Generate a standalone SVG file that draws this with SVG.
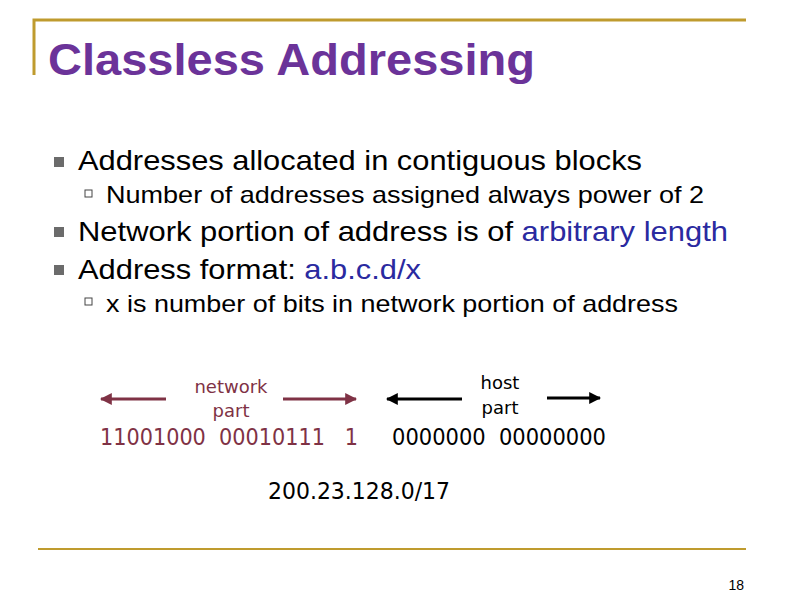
<svg xmlns="http://www.w3.org/2000/svg" width="792" height="612" viewBox="0 0 792 612">
<defs>
<marker id="ar2" viewBox="0 0 10 10" refX="9" refY="5" markerWidth="4" markerHeight="4" orient="auto"><path d="M0,0L10,5L0,10z" fill="#000"/></marker>
<marker id="ar3" viewBox="0 0 10 10" refX="9" refY="5" markerWidth="4" markerHeight="4" orient="auto"><path d="M0,0L10,5L0,10z" fill="#7f3245"/></marker>
</defs>
<style>
.t{font-family:"Liberation Sans",Arial,sans-serif;fill:#000}
.b{font-size:28px}
.s{font-size:24px}
.blue{fill:#2a2aa0}
.net{font-family:"DejaVu Sans",sans-serif;fill:#7f3245}
.hst{font-family:"DejaVu Sans",sans-serif;fill:#000}
</style>
<rect width="792" height="612" fill="#fff"/>
<g id="frame" fill="none" stroke="#bf9b2e" stroke-width="3">
<path d="M34,75V20H746"/>
<path d="M38,549H746" stroke-width="2"/>
</g>
<text class="t" x="48" y="75" font-size="44" font-weight="bold" style="fill:#6b3399" textLength="487" lengthAdjust="spacingAndGlyphs">Classless Addressing</text>
<g id="bullets">
<rect x="54" y="157" width="10" height="10" fill="#6b6b6b"/>
<rect x="54" y="227" width="10" height="10" fill="#6b6b6b"/>
<rect x="54" y="265" width="10" height="10" fill="#6b6b6b"/>
<rect x="85" y="190" width="7" height="7" fill="none" stroke="#444" stroke-width="1"/>
<rect x="85" y="298" width="7" height="7" fill="none" stroke="#444" stroke-width="1"/>
</g>
<text class="t b" x="78" y="170" textLength="564" lengthAdjust="spacingAndGlyphs">Addresses allocated in contiguous blocks</text>
<text class="t s" x="106" y="203" textLength="598" lengthAdjust="spacingAndGlyphs">Number of addresses assigned always power of 2</text>
<text class="t b" x="78" y="241" textLength="650" lengthAdjust="spacingAndGlyphs">Network portion of address is of <tspan class="blue">arbitrary length</tspan></text>
<text class="t b" x="78" y="279" textLength="343" lengthAdjust="spacingAndGlyphs">Address format: <tspan class="blue">a.b.c.d/x</tspan></text>
<text class="t s" x="106" y="312" textLength="572" lengthAdjust="spacingAndGlyphs">x is number of bits in network portion of address</text>
<g id="connectors" stroke-width="3">
<line x1="166" y1="399" x2="101" y2="399" stroke="#7f3245" marker-end="url(#ar3)"/>
<line x1="283" y1="399" x2="356" y2="399" stroke="#7f3245" marker-end="url(#ar3)"/>
<line x1="462" y1="399" x2="387" y2="399" stroke="#000" marker-end="url(#ar2)"/>
<line x1="547" y1="398" x2="600" y2="398" stroke="#000" marker-end="url(#ar2)"/>
</g>
<g id="network">
<text class="net" x="231" y="393" font-size="18" text-anchor="middle">network</text>
<text class="net" x="231" y="417" font-size="18" text-anchor="middle">part</text>
<text class="net" x="100" y="445" font-size="23" xml:space="preserve" textLength="258" lengthAdjust="spacingAndGlyphs">11001000  00010111   1</text>
</g>
<g id="host">
<text class="hst" x="500" y="389" font-size="18" text-anchor="middle">host</text>
<text class="hst" x="500" y="414" font-size="18" text-anchor="middle">part</text>
<text class="hst" x="392" y="445" font-size="23" xml:space="preserve" textLength="214" lengthAdjust="spacingAndGlyphs">0000000  00000000</text>
</g>
<text class="hst" x="268" y="499" font-size="23" textLength="182" lengthAdjust="spacingAndGlyphs">200.23.128.0/17</text>
<text class="t" x="744" y="590" font-size="14" text-anchor="end">18</text>
</svg>
